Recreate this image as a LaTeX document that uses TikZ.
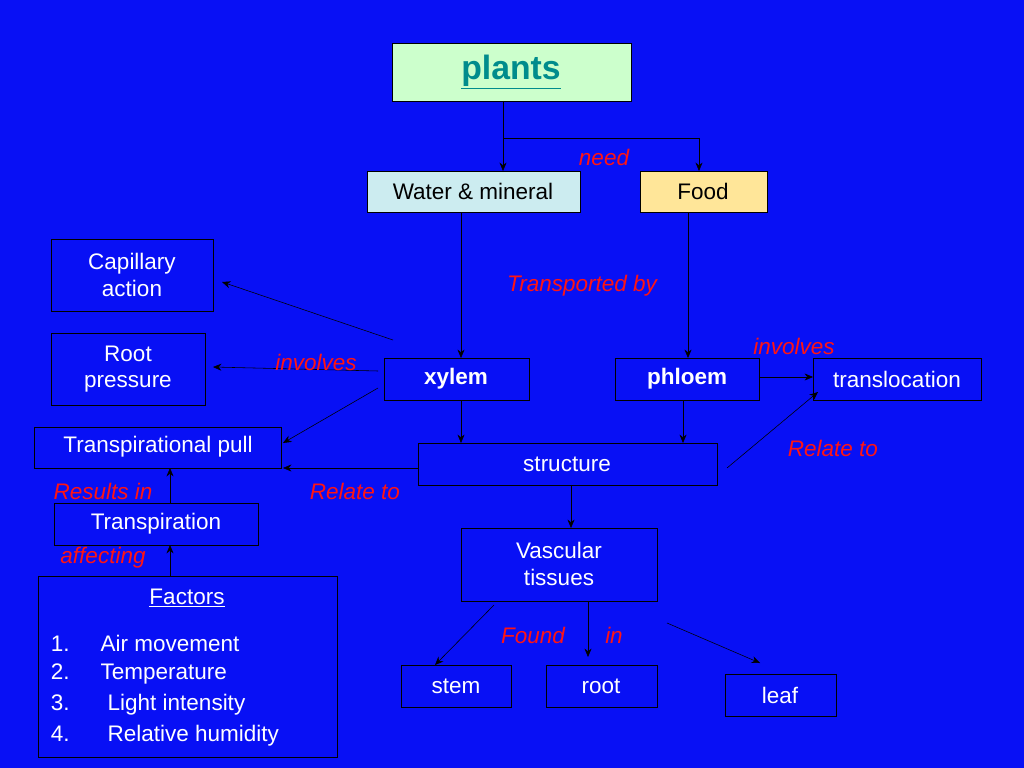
\documentclass[tikz,border=0pt]{standalone}
\usepackage{fontspec}
\setmainfont{Liberation Sans}
\usetikzlibrary{arrows.meta}
\definecolor{bg}{RGB}{8,16,245}
\definecolor{lgreen}{RGB}{204,255,204}
\definecolor{lcyan}{RGB}{204,236,240}
\definecolor{lyellow}{RGB}{255,230,153}
\definecolor{teal2}{RGB}{0,140,140}
\definecolor{lblred}{RGB}{255,20,20}
\begin{document}
\begin{tikzpicture}[x=0.025cm,y=-0.025cm,
  txt/.style={text=white,font=\fontsize{16}{19}\selectfont,align=center},
  bx/.style={draw=black,thin},
  lbl/.style={text=lblred,font=\fontsize{16}{19}\selectfont\itshape},
  ar/.style={draw=black,-{Stealth[length=6pt,width=5pt]}}]
\fill[bg] (0,0) rectangle (1024,768);
\useasboundingbox (0,0) rectangle (1024,768);
\draw[bx,fill=lgreen] (392,43) rectangle (631,101);
\node (plants) at (511,72) {\fontsize{24}{28}\selectfont\bfseries\color{teal2}\underline{plants}};
\draw[bx,fill=lcyan] (367,171) rectangle (580,212);
\node[font=\fontsize{16}{19}\selectfont] (water) at (473,191) {Water \& mineral};
\draw[bx,fill=lyellow] (640,171) rectangle (767,212);
\node[font=\fontsize{16}{19}\selectfont] (food) at (703,191) {Food};
\draw[bx] (51,239) rectangle (213,311); \node[txt] (cap) at (132,275) {Capillary\\action};
\draw[bx] (51,333) rectangle (205,405); \node[txt] (root) at (128,369) {Root\\pressure};
\draw[bx] (384,358) rectangle (529,400); \node[txt,font=\fontsize{16}{19}\selectfont\bfseries] (xylem) at (456,379) {xylem};
\draw[bx] (615,358) rectangle (759,400); \node[txt,font=\fontsize{16}{19}\selectfont\bfseries] (phloem) at (687,379) {phloem};
\draw[bx] (813,358) rectangle (981,400); \node[txt] (transl) at (897,379) {translocation};
\draw[bx] (34,427) rectangle (281,468); \node[txt] (tpull) at (158,447) {Transpirational pull};
\draw[bx] (418,443) rectangle (717,485); \node[txt] (struct) at (567,464) {structure};
\draw[bx] (54,503) rectangle (258,545); \node[txt] (transp) at (156,524) {Transpiration};
\draw[bx] (461,528) rectangle (657,601); \node[txt] (vasc) at (559,564) {Vascular\\tissues};
\draw[bx] (38,576) rectangle (337,757);
\node[txt] (fac) at (187,598) {\underline{Factors}};
\node[txt,anchor=west] (f1) at (46,643) {1.\hspace{22pt}Air movement};
\node[txt,anchor=west] (f2) at (46,674) {2.\hspace{22pt}Temperature};
\node[txt,anchor=west] (f3) at (46,705) {3.\hspace{27pt}Light intensity};
\node[txt,anchor=west] (f4) at (46,736) {4.\hspace{27pt}Relative humidity};
\draw[bx] (401,665) rectangle (511,707); \node[txt] (stem) at (456,686) {stem};
\draw[bx] (546,665) rectangle (657,707); \node[txt] (rootn) at (601,686) {root};
\draw[bx] (725,674) rectangle (836,716); \node[txt] (leaf) at (780,695) {leaf};
% connectors
\coordinate (s1) at (503,101); \coordinate (s2) at (503,138); \coordinate (s3) at (699,138);
\draw (s1) -- (s2) -- (s3);
\draw[ar] (s2) -- (503,171);
\draw[ar] (s3) -- (699,171);
\draw[ar] (461,212) -- (461,358);
\draw[ar] (688,212) -- (688,358);
\draw[ar] (393,340) -- (222,282);
\draw[ar] (378,371) -- (213,367);
\draw[ar] (378,388) -- (283,443);
\draw[ar] (461,400) -- (461,443);
\draw[ar] (683,400) -- (683,443);
\draw[ar] (759,377) -- (813,377);
\draw[ar] (418,468) -- (283,468);
\draw[ar] (727,468) -- (818,392);
\draw[ar] (170,503) -- (170,468);
\draw[ar] (170,576) -- (170,545);
\draw[ar] (571,485) -- (571,528);
\draw[ar] (494,605) -- (435,665);
\draw[ar] (588,601) -- (588,657);
\draw[ar] (667,623) -- (760,663);
% labels
\node[lbl] (l1) at (604,157) {need};
\node[lbl] (l2) at (582,286) {Transported by};
\node[lbl] (l3) at (316,362) {involves};
\node[lbl] (l4) at (794,346) {involves};
\node[lbl] (l5) at (833,448) {Relate to};
\node[lbl] (l6) at (355,491) {Relate to};
\node[lbl] (l7) at (103,491) {Results in};
\node[lbl] (l8) at (103,558) {affecting};
\node[lbl] (l9) at (533,635) {Found};
\node[lbl] (l10) at (614,635) {in};
\end{tikzpicture}
\end{document}
